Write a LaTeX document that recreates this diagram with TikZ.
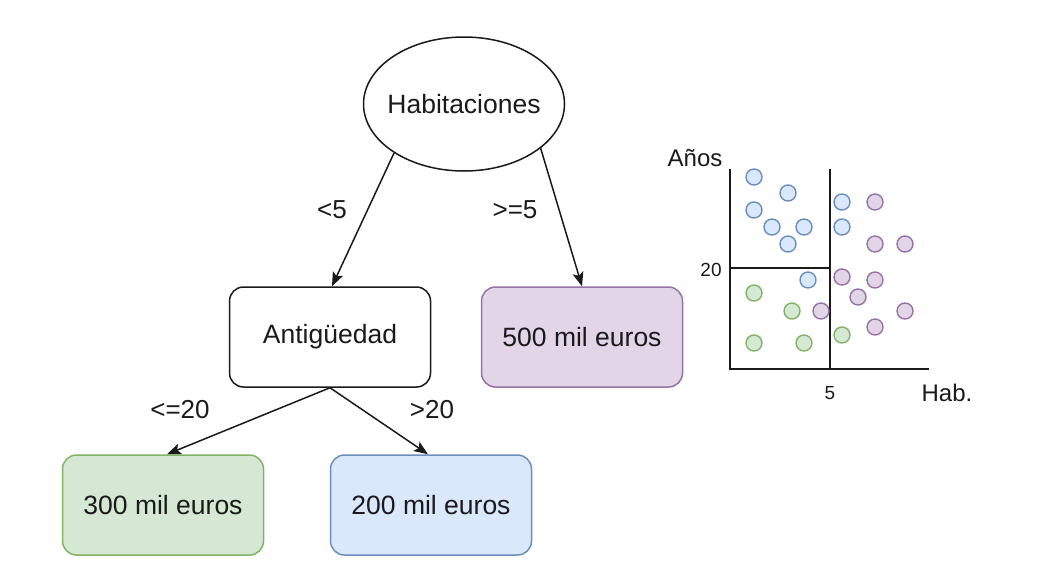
\documentclass[tikz,border=0pt]{standalone}
\usepackage{fontspec}
\setmainfont{Liberation Sans}
\usetikzlibrary{shapes.geometric,arrows.meta}
\definecolor{bfill}{HTML}{DAE8FC}\definecolor{bline}{HTML}{6C8EBF}
\definecolor{gfill}{HTML}{D5E8D4}\definecolor{gline}{HTML}{82B366}
\definecolor{pfill}{HTML}{E1D5E7}\definecolor{pline}{HTML}{9673A6}
\definecolor{ink}{HTML}{1A1A1A}
\tikzset{
  box/.style={draw=ink,line width=1.5pt,rounded corners=14pt,minimum width=201pt,minimum height=100pt,inner sep=0pt,font=\fontsize{26.5}{31}\selectfont,text=ink},
  edge/.style={draw=ink,line width=1.5pt,-{Stealth[length=14pt,width=11pt,inset=3pt]}},
  lbl/.style={font=\fontsize{26}{30}\selectfont,text=ink,inner sep=0pt},
  ax/.style={draw=ink,line width=1.7pt},
  axl/.style={font=\fontsize{24}{28}\selectfont,text=ink,inner sep=0pt},
  small/.style={font=\fontsize{19}{22}\selectfont,text=ink,inner sep=0pt},
  dot/.style={circle,line width=1.4pt,minimum size=16pt,inner sep=0pt},
  bdot/.style={dot,draw=bline,fill=bfill},
  gdot/.style={dot,draw=gline,fill=gfill},
  pdot/.style={dot,draw=pline,fill=pfill},
}
\begin{document}
\begin{tikzpicture}[x=1pt,y=-1pt]
\useasboundingbox[fill=white] (0,0) rectangle (1051,579);
% tree
\node[ellipse,draw=ink,line width=1.5pt,minimum width=201pt,minimum height=134pt,inner xsep=-25pt,inner ysep=0pt,font=\fontsize{26.5}{31}\selectfont,text=ink] (hab) at (464,104) {Habitaciones};
\node[box] (ant) at (330,337) {Antigüedad};
\node[box,fill=pfill,draw=pline] (p500) at (582,337) {500 mil euros};
\node[box,fill=gfill,draw=gline] (p300) at (163,505) {300 mil euros};
\node[box,fill=bfill,draw=bline] (p200) at (431,505) {200 mil euros};
\draw[edge] (hab.215) -- ([xshift=2pt]ant.north);
\draw[edge] (hab.330) -- (p500.north);
\draw[edge] (ant.south) -- ([xshift=4pt]p300.north);
\draw[edge] (ant.south) -- ([xshift=-3pt]p200.north);
\node[lbl] (l1) at (332,210) {<5};
\node[lbl] (l2) at (515,210) {>=5};
\node[lbl] (l3) at (180,410) {<=20};
\node[lbl] (l4) at (432,410) {>20};
% scatter plot
\coordinate (o) at (730,369);
\coordinate (ytop) at (730,169);
\coordinate (xend) at (929,369);
\coordinate (vtop) at (830,169);
\coordinate (vbot) at (830,369);
\coordinate (hl) at (730,268);
\coordinate (hr) at (830,268);
\draw[ax] (ytop) -- (o) -- (xend);
\draw[ax] (vtop) -- (vbot);
\draw[ax] (hl) -- (hr);
\node[axl] (anos) at (695,158) {Años};
\node[axl] (habl) at (947,393) {Hab.};
\node[small] (n20) at (711,270) {20};
\node[small] (n5) at (830,393) {5};
% blue
\node[bdot] (b1) at (754,177) {};
\node[bdot] (b2) at (788,193) {};
\node[bdot] (b3) at (754,210) {};
\node[bdot] (b4) at (772,227) {};
\node[bdot] (b5) at (804,227) {};
\node[bdot] (b6) at (788,244) {};
\node[bdot] (b7) at (842,202) {};
\node[bdot] (b8) at (842,227) {};
\node[bdot] (b9) at (808,280) {};
% purple
\node[pdot] (q1) at (875,202) {};
\node[pdot] (q2) at (875,244) {};
\node[pdot] (q3) at (905,244) {};
\node[pdot] (q4) at (842,277) {};
\node[pdot] (q5) at (875,280) {};
\node[pdot] (q6) at (858,297) {};
\node[pdot] (q7) at (821,311) {};
\node[pdot] (q8) at (905,311) {};
\node[pdot] (q9) at (875,327) {};
% green
\node[gdot] (g1) at (754,293) {};
\node[gdot] (g2) at (792,311) {};
\node[gdot] (g3) at (754,343) {};
\node[gdot] (g4) at (804,343) {};
\node[gdot] (g5) at (842,335) {};
\end{tikzpicture}
\end{document}
